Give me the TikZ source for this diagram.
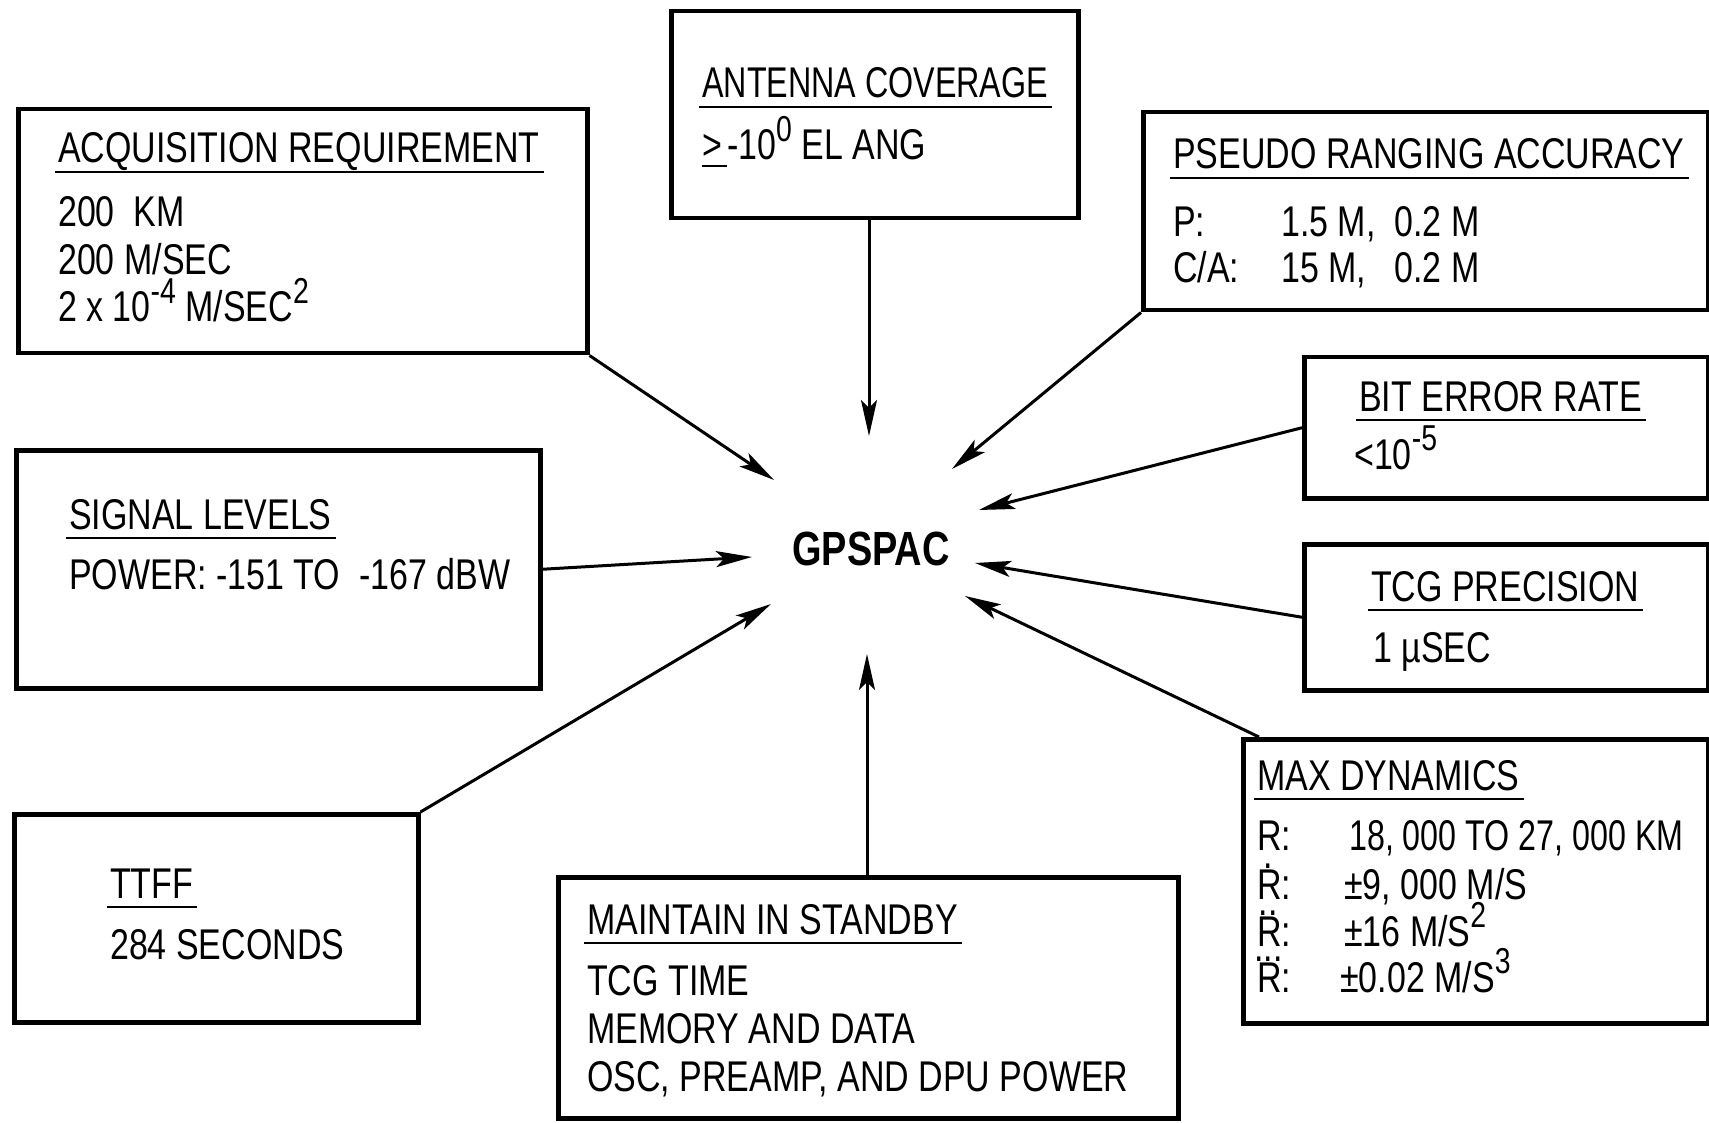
\documentclass[tikz,border=0pt]{standalone}
\usepackage{fontspec}
\setmainfont[FakeStretch=0.79]{Liberation Sans}
\newfontfamily\narrowfont[FakeStretch=0.75]{Liberation Sans}
\usetikzlibrary{arrows.meta}
\newcommand\upx[1]{\raisebox{0.42em}{\fontsize{36}{36}\selectfont #1}}
\newcommand\overdots[1]{\ooalign{R\cr\hidewidth\smash{\raisebox{0.70em}{\kern-0.05em#1}}\hidewidth\cr}}
\newcommand\geqmark{\ooalign{>\cr\smash{\raisebox{-0.16em}{\rule{0.58em}{0.055em}}}\cr}}
\tikzset{
  box/.style={draw, line width=4.5pt, inner sep=0pt, anchor=north west},
  txt/.style={anchor=base west, inner sep=0pt, font=\fontsize{43}{48}\selectfont},
  ul/.style={line width=2.6pt},
  arr/.style={line width=3pt, -{Stealth[length=36pt,width=16pt,inset=8pt]}},
}
\begin{document}
\begin{tikzpicture}[x=1pt,y=-1pt]
\useasboundingbox[fill=white] (0,0) rectangle (1709,1123);

% boxes
\node[box, minimum width=569pt, minimum height=244pt] (acq) at (16,107) {};
\node[box, minimum width=407pt, minimum height=207pt] (ant) at (669,9) {};
\node[box, minimum width=565pt, minimum height=198pt] (pse) at (1141,110) {};
\node[box, minimum width=404pt, minimum height=141pt] (ber) at (1302,355) {};
\node[box, minimum width=404pt, minimum height=146pt] (tcg) at (1302,542) {};
\node[box, minimum width=465pt, minimum height=284pt] (mdy) at (1241,737) {};
\node[box, minimum width=620pt, minimum height=241pt] (mnt) at (556,875) {};
\node[box, minimum width=404pt, minimum height=208pt] (ttf) at (12,812) {};
\node[box, minimum width=524pt, minimum height=238pt] (sig) at (14,448) {};

% centre
\node[inner sep=0pt, font=\fontsize{48}{48}\selectfont\bfseries] (gps) at (871,549) {GPSPAC};

% acquisition
\node[txt] (acqT) at (58,163) {ACQUISITION REQUIREMENT};
\node[txt] (acq1) at (58,227) {200\ \ KM};
\node[txt] (acq2) at (58,275) {200 M/SEC};
\node[txt] (acq3) at (58,322) {2 x 10\upx{-4} M/SEC\upx{2}};

% antenna
\node[txt, font=\fontsize{43}{48}\narrowfont] (antT) at (702,98) {ANTENNA COVERAGE};
\node[txt] (ant1) at (702,160) {\geqmark-10\upx{0} EL ANG};

% pseudo ranging
\node[txt] (pseT) at (1173,169) {PSEUDO RANGING ACCURACY};
\node[txt] (pse1a) at (1173,237) {P:};
\node[txt] (pse1b) at (1281,237) {1.5 M, \ 0.2 M};
\node[txt] (pse2a) at (1173,283) {C/A:};
\node[txt] (pse2b) at (1281,283) {15 M, \ \ 0.2 M};

% bit error rate
\node[txt] (berT) at (1359,411) {BIT ERROR RATE};
\node[txt] (ber1) at (1354,469) {<10\upx{-5}};

% tcg precision
\node[txt] (tcgT) at (1371,601) {TCG PRECISION};
\node[txt] (tcg1) at (1373,662) {1 µSEC};

% max dynamics
\node[txt] (mdyT) at (1257,790) {MAX DYNAMICS};
\node[txt] (mdy1a) at (1257,850) {R:};
\node[txt, font=\fontsize{43}{48}\narrowfont] (mdy1b) at (1349,850) {18, 000 TO 27, 000 KM};
\node[txt] (mdy2a) at (1257,899) {\overdots{.}:};
\node[txt] (mdy2b) at (1344,899) {±9, 000 M/S};
\node[txt] (mdy3a) at (1257,946) {\overdots{..}:};
\node[txt] (mdy3b) at (1344,946) {±16 M/S\upx{2}};
\node[txt] (mdy4a) at (1257,992) {\overdots{...}:};
\node[txt] (mdy4b) at (1340,992) {±0.02 M/S\upx{3}};

% maintain in standby
\node[txt] (mntT) at (587,934) {MAINTAIN IN STANDBY};
\node[txt] (mnt1) at (587,995) {TCG TIME};
\node[txt] (mnt2) at (587,1043) {MEMORY AND DATA};
\node[txt] (mnt3) at (587,1091) {OSC, PREAMP, AND DPU POWER};

% ttff
\node[txt] (ttfT) at (110,898) {TTFF};
\node[txt] (ttf1) at (110,959) {284 SECONDS};

% signal levels
\node[txt] (sigT) at (69,529) {SIGNAL LEVELS};
\node[txt] (sig1) at (69,589) {POWER: -151 TO \ -167 dBW};

% underlines
\foreach \t in {acqT,antT,pseT,berT,tcgT,mdyT,mntT,ttfT,sigT}
  \draw[ul] ([xshift=-3pt,yshift=-9pt]\t.base west) -- ([xshift=4pt,yshift=-9pt]\t.base east);

% arrow targets
\coordinate (eAcq) at (774,480);
\coordinate (eAnt) at (869,436);
\coordinate (ePse) at (952,469);
\coordinate (eBer) at (979,510);
\coordinate (eSig) at (752,557);
\coordinate (eTcg) at (975,563);
\coordinate (eMdy) at (965,596);
\coordinate (eTtf) at (771,604);
\coordinate (eMnt) at (867,654);

% arrows
\draw[arr] (acq.south east) -- (eAcq);
\draw[arr] (ant.south -| eAnt) -- (eAnt);
\draw[arr] (pse.south west) -- (ePse);
\draw[arr] (ber.west) -- (eBer);
\draw[arr] (sig.east) -- (eSig);
\draw[arr] (tcg.west) -- (eTcg);
\draw[arr] ([xshift=18pt]mdy.north west) -- (eMdy);
\draw[arr] (ttf.north east) -- (eTtf);
\draw[arr] (mnt.north -| eMnt) -- (eMnt);
\end{tikzpicture}
\end{document}
